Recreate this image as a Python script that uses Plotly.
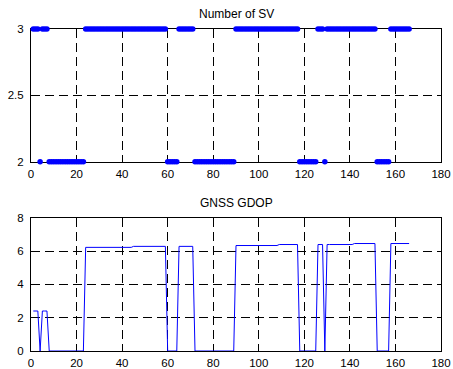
import plotly.graph_objects as go
from plotly.subplots import make_subplots

# time index (samples)
t = list(range(1, 167))

# Number of satellites in view, read per sample
sv = [
    3, 3, 3, 2, 3, 3, 3,
    2, 2, 2, 2, 2, 2, 2, 2, 2, 2, 2, 2, 2, 2, 2, 2,
    3, 3, 3, 3, 3, 3, 3, 3, 3, 3, 3, 3,
    3, 3, 3, 3, 3, 3, 3, 3, 3, 3, 3, 3,
    3, 3, 3, 3, 3, 3, 3, 3, 3, 3, 3, 3,
    2, 2, 2, 2, 2,
    3, 3, 3, 3, 3, 3, 3,
    2, 2, 2, 2, 2, 2, 2, 2, 2, 2, 2, 2, 2, 2, 2, 2, 2, 2,
    3, 3, 3, 3, 3, 3, 3, 3, 3, 3, 3, 3, 3, 3,
    3, 3, 3, 3, 3, 3, 3, 3, 3, 3, 3, 3, 3, 3,
    2, 2, 2, 2, 2, 2, 2, 2,
    3, 3, 3,
    2,
    3, 3, 3, 3, 3, 3, 3, 3, 3, 3, 3,
    3, 3, 3, 3, 3, 3, 3, 3, 3, 3, 3,
    2, 2, 2, 2, 2, 2,
    3, 3, 3, 3, 3, 3, 3, 3, 3,
]

# GNSS GDOP, read per sample
gdop = [
    2.4, 2.4, 2.4, 0, 2.4, 2.4, 2.4,
    0, 0, 0, 0, 0, 0, 0, 0, 0, 0, 0, 0, 0, 0, 0, 0,
    6.22, 6.22, 6.22, 6.22, 6.22, 6.22, 6.22, 6.22, 6.22, 6.22, 6.22,
    6.22, 6.22, 6.22, 6.22, 6.22, 6.22, 6.22, 6.22, 6.22, 6.22,
    6.28, 6.28, 6.28, 6.28, 6.28, 6.28, 6.28, 6.28, 6.28, 6.28,
    6.28, 6.28, 6.28, 6.28, 6.28,
    0, 0, 0, 0, 0,
    6.28, 6.28, 6.28, 6.28, 6.28, 6.28, 6.28,
    0, 0, 0, 0, 0, 0, 0, 0, 0, 0, 0, 0, 0, 0, 0, 0, 0, 0,
    6.33, 6.33, 6.33, 6.33, 6.33, 6.33, 6.33, 6.33, 6.33, 6.33,
    6.33, 6.33, 6.33, 6.33, 6.33, 6.33, 6.33, 6.33, 6.33,
    6.39, 6.39, 6.39, 6.39, 6.39, 6.39, 6.39, 6.39, 6.39,
    0, 0, 0, 0, 0, 0, 0, 0,
    6.39, 6.39, 6.39,
    0,
    6.39, 6.39, 6.39, 6.39, 6.39, 6.39, 6.39, 6.39, 6.39, 6.39, 6.39, 6.39,
    6.45, 6.45, 6.45, 6.45, 6.45, 6.45, 6.45, 6.45, 6.45, 6.45,
    0, 0, 0, 0, 0, 0,
    6.45, 6.45, 6.45, 6.45, 6.45, 6.45, 6.45, 6.45, 6.45,
]

x_ticks = [0, 20, 40, 60, 80, 100, 120, 140, 160, 180]
sv_ticks = [2, 2.5, 3]
sv_tick_text = ["2", "2.5", "3"]
gdop_ticks = [0, 2, 4, 6, 8]

titles = ["Number of SV", "GNSS GDOP"]

assert len(sv) == len(t) and len(gdop) == len(t)

FONT = "Liberation Sans, Arial, sans-serif"
BLUE = "#0000FF"

fig = make_subplots(rows=2, cols=1, vertical_spacing=0.0)

fig.add_trace(go.Scatter(x=t, y=sv, mode="markers",
                         marker=dict(color=BLUE, size=5.5, line=dict(width=0)),
                         cliponaxis=False, showlegend=False), row=1, col=1)
fig.add_trace(go.Scatter(x=t, y=gdop, mode="lines",
                         line=dict(color=BLUE, width=1),
                         cliponaxis=False, showlegend=False), row=2, col=1)

axis_common = dict(showline=True, linecolor="black", linewidth=1, mirror="ticks",
                   ticks="inside", ticklen=4, tickcolor="black", tickwidth=1,
                   showgrid=True, gridcolor="black", gridwidth=1, griddash="9px,5px",
                   zeroline=False, layer="below traces", automargin=False,
                   tickfont=dict(family=FONT, size=11.5, color="black"))

for r in (1, 2):
    fig.update_xaxes(range=[0, 180], tickvals=x_ticks, ticklabelstandoff=1,
                     **axis_common, row=r, col=1)

fig.update_yaxes(range=[2, 3], tickvals=sv_ticks, ticktext=sv_tick_text,
                 ticklabelstandoff=4, **axis_common, row=1, col=1)
fig.update_yaxes(range=[0, 8], tickvals=gdop_ticks,
                 ticklabelstandoff=4, **axis_common, row=2, col=1)

H_PLOT = 322.0
fig.update_layout(
    width=453, height=369,
    margin=dict(l=31, r=12, t=29, b=18, autoexpand=False),
    paper_bgcolor="white", plot_bgcolor="white",
    font=dict(family=FONT, size=11.5, color="black"),
    yaxis=dict(domain=[1 - 132.7 / H_PLOT, 1]),
    yaxis2=dict(domain=[0, 133.3 / H_PLOT]),
    annotations=[
        dict(text=titles[0], x=0.5, y=(351 - 14) / H_PLOT, xref="paper", yref="paper",
             showarrow=False, xanchor="center", yanchor="middle",
             font=dict(family=FONT, size=12, color="black")),
        dict(text=titles[1], x=0.5, y=(351 - 203) / H_PLOT, xref="paper", yref="paper",
             showarrow=False, xanchor="center", yanchor="middle",
             font=dict(family=FONT, size=12, color="black")),
    ],
)

# remove the default page margin so the figure fills the window exactly
fig.write_html("out.html",
               config={"displayModeBar": False, "staticPlot": True},
               post_script="document.body.style.margin='0';"
                           "document.body.style.overflow='hidden';")
